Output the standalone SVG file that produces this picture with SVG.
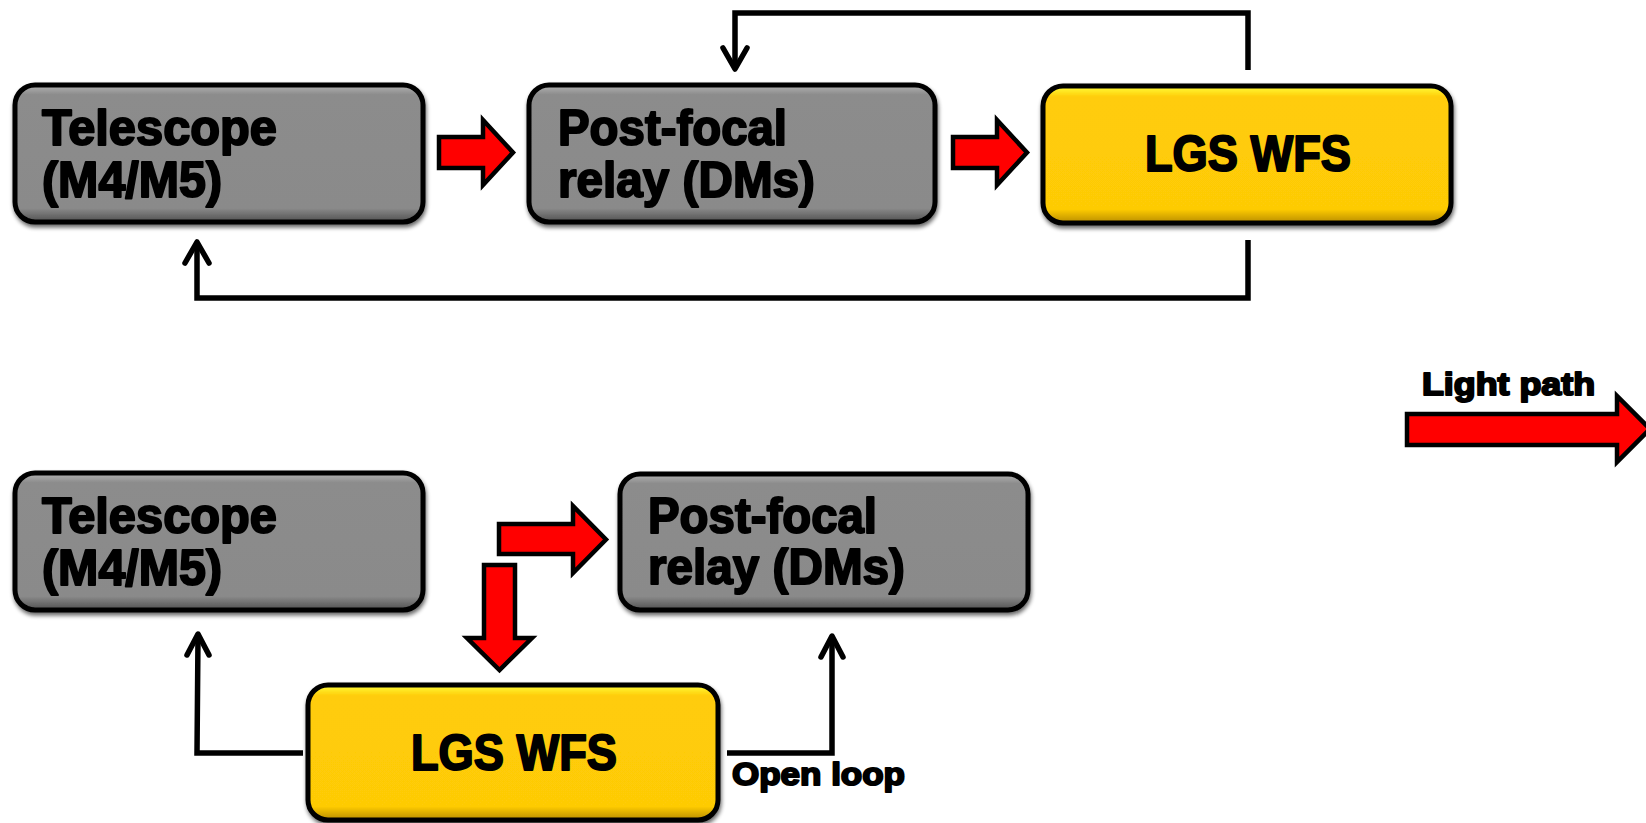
<svg xmlns="http://www.w3.org/2000/svg" width="1646" height="823" viewBox="0 0 1646 823">
<defs>
<linearGradient id="gGray" x1="0" y1="0" x2="0" y2="1">
<stop offset="0" stop-color="#b4b4b4"/>
<stop offset="0.07" stop-color="#8c8c8c"/>
<stop offset="0.9" stop-color="#8a8a8a"/>
<stop offset="1" stop-color="#505050"/>
</linearGradient>
<linearGradient id="gYel" x1="0" y1="0" x2="0" y2="1">
<stop offset="0" stop-color="#ffff3a"/>
<stop offset="0.08" stop-color="#ffcc08"/>
<stop offset="0.9" stop-color="#fecb06"/>
<stop offset="1" stop-color="#b88c00"/>
</linearGradient>
<filter id="shadow" x="-5%" y="-5%" width="110%" height="115%">
<feGaussianBlur in="SourceAlpha" stdDeviation="2"/>
<feOffset dx="1" dy="3" result="b"/>
<feComponentTransfer><feFuncA type="linear" slope="0.6"/></feComponentTransfer>
<feMerge><feMergeNode/><feMergeNode in="SourceGraphic"/></feMerge>
</filter>
</defs>
<style>
.box{stroke:#000;stroke-width:5;filter:url(#shadow)}
.gray{fill:url(#gGray)}
.yel{fill:url(#gYel)}
.t{font-family:"Liberation Sans",Arial,sans-serif;font-weight:bold;fill:#000;stroke:#000;stroke-width:2;stroke-linejoin:round}
.big{font-size:50px}
.small{font-size:32px}
.line{fill:none;stroke:#000;stroke-width:5.5;stroke-linejoin:miter}
.head{fill:none;stroke:#000;stroke-width:5.5;stroke-linecap:round;stroke-linejoin:round}
.red{fill:#ff0000;stroke:#000;stroke-width:4.5;stroke-linejoin:miter}
</style>

<g id="connectors">
<polyline class="line" points="1248,70 1248,13 735,13 735,66"/>
<polyline class="head" points="723,48 735,69 747,48"/>
<polyline class="line" points="1248,240 1248,298 197,298 197,245"/>
<polyline class="head" points="185,263 197,242 209,263"/>
<polyline class="line" points="303,753 197,753 198,637"/>
<polyline class="head" points="187,655 198,634 209,655"/>
<polyline class="line" points="727,753 832,753 832,639"/>
<polyline class="head" points="821,657 832,636 843,657"/>
<polygon class="red" points="439,137 483,137 483,120 513,152.5 483,185 483,168 439,168"/>
<polygon class="red" points="953,137 997,137 997,120 1027,152.5 997,185 997,168 953,168"/>
<polygon class="red" points="499,524 573,524 573,506 606,539.5 573,573 573,554 499,554"/>
<polygon class="red" points="484,565 515,565 515,638 532,638 499.5,670 467,638 484,638"/>
</g>

<g id="telescope-top">
<rect class="box gray" x="15" y="85" width="408" height="137" rx="20"/>
<text class="t big" x="42" y="145" textLength="235" lengthAdjust="spacingAndGlyphs">Telescope</text>
<text class="t big" x="42" y="197" textLength="180" lengthAdjust="spacingAndGlyphs">(M4/M5)</text>
</g>
<g id="postfocal-top">
<rect class="box gray" x="529" y="85" width="406" height="137" rx="20"/>
<text class="t big" x="558" y="145" textLength="229" lengthAdjust="spacingAndGlyphs">Post-focal</text>
<text class="t big" x="558" y="197" textLength="257" lengthAdjust="spacingAndGlyphs">relay (DMs)</text>
</g>
<g id="lgswfs-top">
<rect class="box yel" x="1043" y="86" width="408" height="137" rx="20"/>
<text class="t big" x="1145" y="171" textLength="206" lengthAdjust="spacingAndGlyphs">LGS WFS</text>
</g>

<g id="telescope-bottom">
<rect class="box gray" x="15" y="473" width="408" height="137" rx="20"/>
<text class="t big" x="42" y="533" textLength="235" lengthAdjust="spacingAndGlyphs">Telescope</text>
<text class="t big" x="42" y="585" textLength="180" lengthAdjust="spacingAndGlyphs">(M4/M5)</text>
</g>
<g id="postfocal-bottom">
<rect class="box gray" x="620" y="474" width="408" height="136" rx="20"/>
<text class="t big" x="648" y="533" textLength="229" lengthAdjust="spacingAndGlyphs">Post-focal</text>
<text class="t big" x="648" y="584" textLength="257" lengthAdjust="spacingAndGlyphs">relay (DMs)</text>
</g>
<g id="lgswfs-bottom">
<rect class="box yel" x="308" y="685" width="410" height="135" rx="20"/>
<text class="t big" x="411" y="770" textLength="206" lengthAdjust="spacingAndGlyphs">LGS WFS</text>
</g>

<g id="label-openloop">
<text class="t small" x="732" y="785" textLength="173" lengthAdjust="spacingAndGlyphs">Open loop</text>
</g>
<g id="legend">
<text class="t small" x="1422" y="395" textLength="173" lengthAdjust="spacingAndGlyphs">Light path</text>
<polygon class="red" points="1407,414 1617,414 1617,396 1650,429 1617,462 1617,445 1407,445"/>
</g>
</svg>
